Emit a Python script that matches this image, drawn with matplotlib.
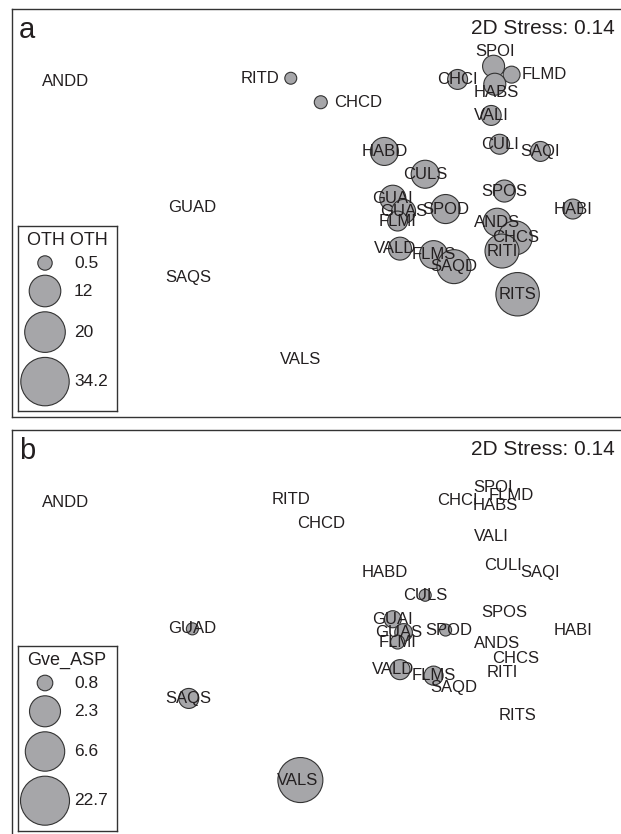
import numpy as np
import matplotlib
matplotlib.use("Agg")
import matplotlib.pyplot as plt

plt.rcParams['font.family'] = ['Liberation Sans', 'DejaVu Sans']

# ---------------- data ----------------
sites = ["ANDD", "RITD", "CHCD", "SPOI", "FLMD", "CHCI", "HABS", "VALI", "CULI",
         "SAQI", "HABD", "CULS", "SPOS", "HABI", "GUAI", "GUAS", "FLMI", "SPOD",
         "ANDS", "CHCS", "RITI", "VALD", "FLMS", "SAQD", "RITS", "GUAD", "SAQS", "VALS"]
mds1 = [-2.79, -0.91, -0.66, 0.78, 0.93, 0.48, 0.79, 0.76, 0.83,
        1.17, -0.13, 0.21, 0.87, 1.44, -0.06, 0.03, -0.02, 0.38,
        0.81, 0.96, 0.85, 0.00, 0.28, 0.45, 0.98, -1.73, -1.76, -0.83]
mds2 = [0.81, 0.84, 0.64, 0.94, 0.87, 0.83, 0.79, 0.53, 0.29,
        0.23, 0.23, 0.04, -0.10, -0.25, -0.16, -0.27, -0.35, -0.25,
        -0.36, -0.49, -0.60, -0.58, -0.63, -0.73, -0.96, -0.24, -0.82, -1.50]
oth = [0, 0.22, 0.34, 5.6, 2.2, 4.2, 5.6, 4.2, 4.2,
       4.2, 9.6, 9.6, 5.6, 4.2, 8.3, 6.9, 4.2, 10.3,
       9.6, 14.1, 14.1, 6.2, 9.6, 14.1, 25.1, 0, 0, 0]
gve_asp = [0, 0, 0, 0, 0, 0, 0, 0, 0,
           0, 0, 0.29, 0, 0, 0.94, 1.0, 0.57, 0.29,
           0, 0, 0, 1.23, 1.14, 0, 0, 0.29, 1.23, 16.0]
legend_oth = [0.5, 12, 20, 34.2]
legend_gve = [0.8, 2.3, 6.6, 22.7]
stress = 0.14

# ---------------- styles / layout ----------------
W, H, DPI = 621, 834, 100
FILL = "#a6a6a9"
EDGE = "#333333"
TXT = "#231f20"
# bubble radius scale (pixels) anchored on legend bubbles
SCALE_A = ([0, 0.5, 12, 20, 34.2], [5.0, 7.2, 15.8, 20.3, 24.2])
SCALE_B = ([0, 0.8, 2.3, 6.6, 22.7], [5.0, 7.8, 15.5, 19.7, 24.5])
# label offsets (pixels) where labels were moved off their point
OFF_A = {"SPOI": (2, 15), "FLMD": (33, 0), "HABS": (1, -8), "RITD": (-31, 0),
         "CHCD": (37, 0), "VALD": (-5, 0)}
OFF_B = {"VALD": (-7, 0), "GUAS": (-5, 0), "SPOD": (3, 0), "VALS": (-3, 0), "CULI": (3, 0)}

XLIM = (-3.233, 1.875)
YLIM = (-1.983, 1.417)


def radius(vals, scale):
    return np.interp(np.asarray(vals, float), scale[0], scale[1])


def size_pt2(r_px):
    return (2 * np.asarray(r_px) * 72.0 / DPI) ** 2


fig = plt.figure(figsize=(W / DPI, H / DPI), dpi=DPI)


def panel(top_px, values, scale, offsets, letter, leg_vals, leg_title, leg_top):
    ax = fig.add_axes([12 / W, 1 - (top_px + 408) / H, 613 / W, 408 / H])
    ax.set_xlim(*XLIM)
    ax.set_ylim(*YLIM)
    ax.set_xticks([])
    ax.set_yticks([])
    for s in ax.spines.values():
        s.set_color("#333333")
        s.set_linewidth(1.0)
    v = np.asarray(values, float)
    x = np.asarray(mds1)
    y = np.asarray(mds2)
    m = v > 0
    ax.scatter(x[m], y[m], s=size_pt2(radius(v[m], scale)), facecolor=FILL,
               edgecolor=EDGE, linewidth=0.8, zorder=2)
    for name, xi, yi in zip(sites, x, y):
        dx, dy = offsets.get(name, (0, 0))
        ax.annotate(name, (xi, yi), xytext=(dx, dy), textcoords="offset pixels",
                    ha="center", va="center", fontsize=12, color=TXT, zorder=3)
    # panel letter and stress
    fig.text(19 / W, 1 - (top_px + 29) / H, letter, fontsize=21, color=TXT,
             ha="left", va="baseline")
    fig.text(615 / W, 1 - (top_px + 25) / H, f"2D Stress: {stress:.2f}", fontsize=15,
             color=TXT, ha="right", va="baseline")
    # legend box
    lg = fig.add_axes([18 / W, 1 - (leg_top + 185) / H, 99 / W, 185 / H])
    lg.set_xlim(0, 99)
    lg.set_ylim(185, 0)
    lg.set_xticks([])
    lg.set_yticks([])
    for s in lg.spines.values():
        s.set_color("#333333")
        s.set_linewidth(1.0)
    lg.text(49, 14, leg_title, ha="center", va="center", fontsize=13, color=TXT)
    rl = radius(leg_vals, scale)
    ys = []
    yc = 37.0
    for i, r in enumerate(rl):
        if i > 0:
            yc = ys[-1] + rl[i - 1] + 5.0 + r
        ys.append(yc)
    lg.scatter(np.full(len(rl), 27.0), ys, s=size_pt2(rl), facecolor=FILL,
               edgecolor=EDGE, linewidth=0.8, clip_on=False)
    for val, yy in zip(leg_vals, ys):
        lg.text(56, yy, f"{val:g}", ha="left", va="center", fontsize=12.5, color=TXT)
    return ax


panel(9, oth, SCALE_A, OFF_A, "a", legend_oth, "OTH OTH", 226)
panel(430, gve_asp, SCALE_B, OFF_B, "b", legend_gve, "Gve_ASP", 646)

fig.savefig("out.png", dpi=DPI)
